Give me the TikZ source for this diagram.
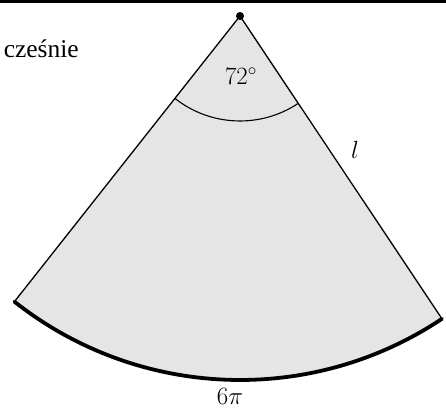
\documentclass[tikz,border=0pt]{standalone}
\usepackage{fontspec}
\usetikzlibrary{calc}
\newfontfamily\txtfont{Liberation Serif}
\tikzset{
  sectorfill/.style={fill=black!10, draw=none},
  edgeline/.style={draw=black, line width=1.3pt},
  outerarc/.style={draw=black, line width=3.8pt, line cap=round},
  anglearc/.style={draw=black, line width=1.1pt},
  lbl/.style={font=\fontsize{26}{30}\selectfont, inner sep=0pt},
}
\begin{document}
\begin{tikzpicture}[x=1pt,y=1pt]
\useasboundingbox (0,0) rectangle (446,417);
% top rule
\draw[line width=2.6pt] (0,415.3) -- (446,415.3);
\coordinate (apex) at (240,401);
\coordinate (L) at ($(apex)+(231.7:364)$);
\coordinate (R) at ($(apex)+(303.7:364)$);
\fill[black!10] (apex) -- (L) arc[start angle=231.7, end angle=303.7, radius=364] -- cycle;
\draw[edgeline] (L) -- (apex) -- (R);
\draw[outerarc] (L) arc[start angle=231.7, end angle=303.7, radius=364];
\draw[anglearc] ($(apex)+(231.7:105)$) arc[start angle=231.7, end angle=303.7, radius=105];
\fill (apex) circle[radius=4];
\node[lbl] (ang) at (241,341) {$72^\circ$};
\node[lbl] (len) at (355,267) {$l$};
\node[lbl, font=\fontsize{24}{28}\selectfont] (arclen) at (230,21) {$6\pi$};
\node[anchor=base east, inner sep=0pt, font=\txtfont\fontsize{25.5}{30}\selectfont] (txt) at (79,359) {cześnie};
\end{tikzpicture}
\end{document}
